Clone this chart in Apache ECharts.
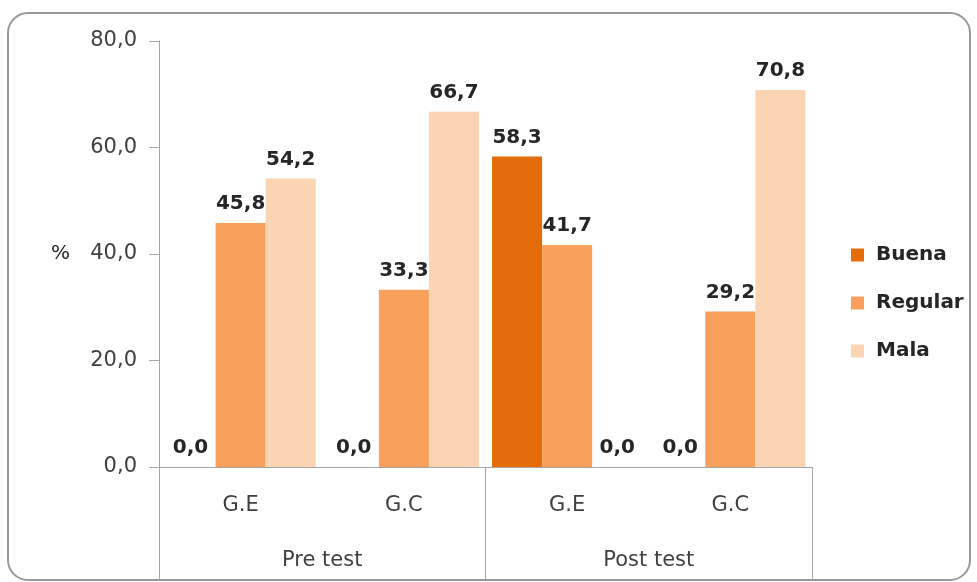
<!DOCTYPE html>
<html>
<head>
<meta charset="utf-8">
<script src="https://cdn.jsdelivr.net/npm/echarts@6/dist/echarts.min.js"></script>
<style>
  html, body { margin: 0; padding: 0; background: #ffffff; }
  #chart { width: 977px; height: 582px; }
</style>
</head>
<body>
<div id="chart"></div>
<script>
// Groups (tested group within each phase) and phases
const groups = ['G.E', 'G.C', 'G.E', 'G.C'];
const phases = ['Pre test', 'Post test'];

// Percentage of students per rating level
const buena   = [0.0, 0.0, 58.3, 0.0];
const regular = [45.8, 33.3, 41.7, 29.2];
const mala    = [54.2, 66.7, 0.0, 70.8];

const yTicks = { min: 0, max: 80, interval: 20 };

const FONT = '"DejaVu Sans", "Open Sans", sans-serif';
const AXIS_GREY = '#a6a6a6';
const fmt = v => Number(v).toFixed(1).replace('.', ',');

const chart = echarts.init(document.getElementById('chart'), null, { renderer: 'canvas' });

const barLabel = {
  show: true,
  position: 'top',
  distance: 9,
  fontFamily: FONT,
  fontWeight: 'bold',
  fontSize: 20,
  color: '#262626',
  formatter: p => fmt(p.value)
};

function barSeries(name, data, color) {
  return {
    name: name,
    type: 'bar',
    data: data,
    xAxisIndex: 0,
    barGap: '0%',
    barCategoryGap: '8%',
    itemStyle: { color: color },
    label: barLabel,
    emphasis: { disabled: true }
  };
}

chart.setOption({
  animation: false,
  backgroundColor: '#ffffff',
  textStyle: { fontFamily: FONT },
  graphic: [{
    type: 'rect',
    z: -10,
    shape: { x: 8, y: 13, width: 962, height: 567, r: 20 },
    style: { fill: '#ffffff', stroke: '#999999', lineWidth: 2 }
  }],
  grid: { left: 159, right: 165, top: 41, bottom: 115 },
  legend: {
    orient: 'vertical',
    left: 846,
    top: 240,
    itemWidth: 13,
    itemHeight: 13,
    itemGap: 28,
    icon: 'rect',
    textStyle: {
      fontFamily: FONT, fontWeight: 'bold', fontSize: 20, lineHeight: 20,
      color: '#262626', padding: [0, 0, 0, 7]
    },
    data: ['Buena', 'Regular', 'Mala']
  },
  xAxis: [
    {
      type: 'category',
      data: groups,
      position: 'bottom',
      axisLine: { show: true, lineStyle: { color: AXIS_GREY, width: 1 } },
      axisTick: { show: false },
      axisLabel: { fontFamily: FONT, fontSize: 21, color: '#404040', margin: 28 }
    },
    {
      type: 'category',
      data: phases,
      position: 'bottom',
      axisLine: { show: false },
      axisTick: { show: true, length: 112, lineStyle: { color: AXIS_GREY, width: 1 } },
      axisLabel: { fontFamily: FONT, fontSize: 21, color: '#404040', margin: 83 }
    }
  ],
  yAxis: {
    type: 'value',
    min: yTicks.min,
    max: yTicks.max,
    interval: yTicks.interval,
    name: '%',
    nameLocation: 'middle',
    nameRotate: 0,
    nameGap: 89,
    nameTextStyle: { fontFamily: FONT, fontSize: 20, color: '#262626' },
    axisLine: { show: true, lineStyle: { color: AXIS_GREY, width: 1 } },
    axisTick: { show: true, length: 10, lineStyle: { color: AXIS_GREY } },
    splitLine: { show: false },
    axisLabel: { fontFamily: FONT, fontSize: 21, color: '#404040', margin: 22, formatter: v => fmt(v) }
  },
  series: [
    barSeries('Buena', buena, '#E46C0A'),
    barSeries('Regular', regular, '#F8A05C'),
    barSeries('Mala', mala, '#FBD4B4')
  ]
});
</script>
</body>
</html>
